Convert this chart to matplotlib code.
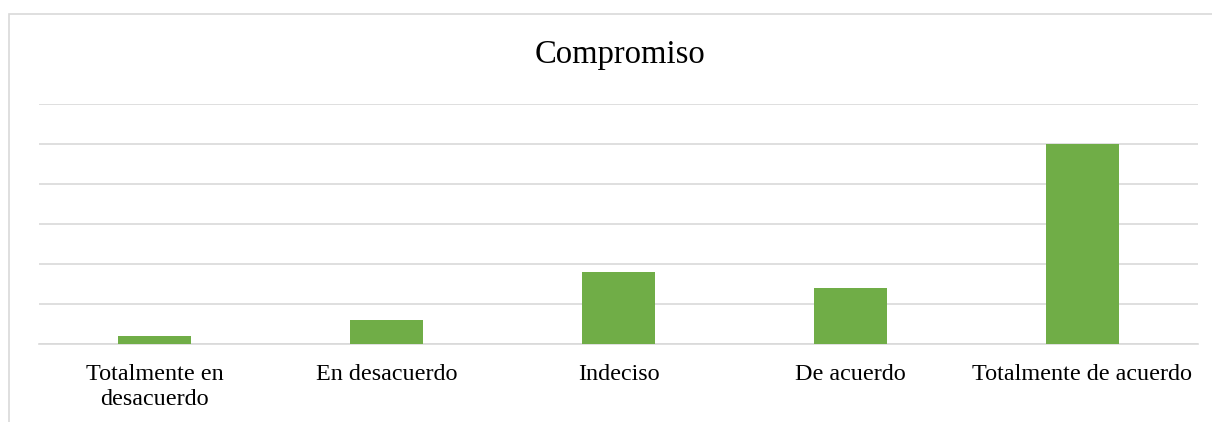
import matplotlib.pyplot as plt
from matplotlib.patches import Rectangle
import numpy as np

categorias = ["Totalmente en\ndesacuerdo", "En desacuerdo", "Indeciso", "De acuerdo", "Totalmente de acuerdo"]
valores = [1, 3, 9, 7, 25]

plt.rcParams['font.family'] = ['Liberation Serif', 'DejaVu Serif']

W, H = 1212, 422
fig = plt.figure(figsize=(W/100, H/100), dpi=100)

# marco del grafico
fig.patches.append(Rectangle((9/W, -0.1), 1.2, 1 - 14/H + 0.1, transform=fig.transFigure,
                             fill=False, edgecolor='#d9d9d9', linewidth=1.2))

ax = fig.add_axes([39/W, 78/H, (1198-39)/W, 240/H])
x = np.arange(len(categorias))
ax.bar(x, valores, width=0.315, color='#70ad47', zorder=3)
ax.set_xlim(-0.5, len(categorias) - 0.5)
ax.set_ylim(0, 30)
ax.set_yticks(np.arange(0, 31, 5))
ax.yaxis.grid(True, color='#d9d9d9', linewidth=1.2)
ax.set_axisbelow(True)
for s in ['top', 'right', 'left']:
    ax.spines[s].set_visible(False)
ax.spines['bottom'].set_color('#d9d9d9')
ax.spines['bottom'].set_linewidth(1.2)
ax.tick_params(axis='y', left=False, labelleft=False)
ax.tick_params(axis='x', length=0, pad=14.5)
ax.set_xticks(x)
ax.set_xticklabels(categorias, fontsize=17.4, color='#000000', linespacing=1.25, va='top')

fig.text(620/W, 1 - 55/H, "Compromiso", ha='center', va='center', fontsize=23.5)

fig.savefig("out.png", dpi=100)
